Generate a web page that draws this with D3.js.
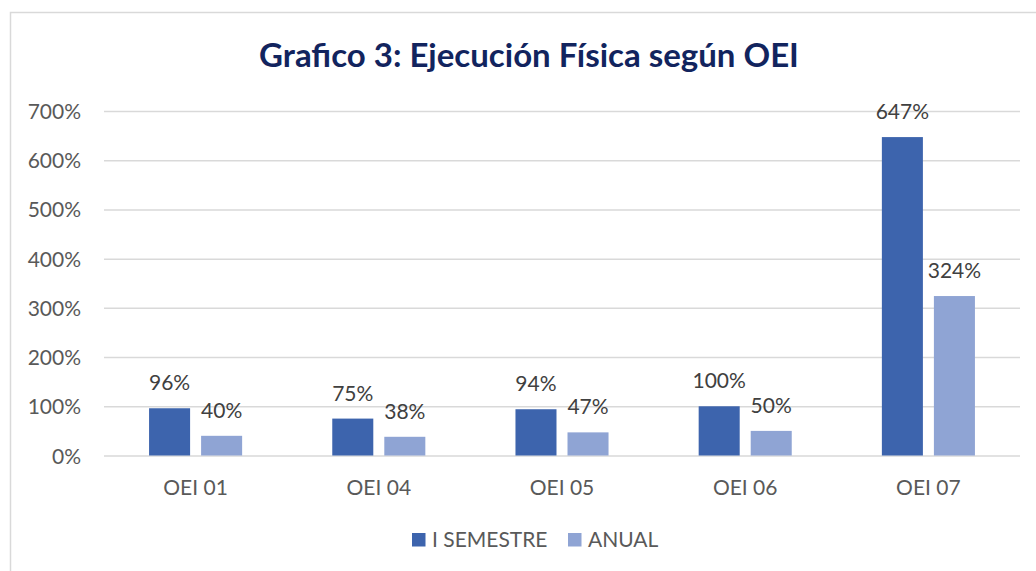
<!DOCTYPE html>
<html>
<head>
<meta charset="utf-8">
<script src="https://cdn.jsdelivr.net/npm/d3@7"></script>
<style>
  html, body { margin: 0; padding: 0; background: #fff; }
  svg { display: block; }
</style>
</head>
<body>
<script>
const categories = ["OEI 01", "OEI 04", "OEI 05", "OEI 06", "OEI 07"]
const series = ["I SEMESTRE", "ANUAL"]
const semestre = [0.96, 0.75, 0.94, 1.0, 6.47]
const anual = [0.40, 0.38, 0.47, 0.50, 3.24]
const yTicks = [0, 1, 2, 3, 4, 5, 6, 7]

const width = 1036
const height = 571
const margin = { top: 111, right: 16, bottom: 115.5, left: 104 }
const colors = { "I SEMESTRE": "#3d64ad", "ANUAL": "#8fa4d4" }
const font = "Lato, 'Noto Sans', sans-serif"

const svg = d3.select("body")
  .append("svg")
  .attr("width", width)
  .attr("height", height)

// outer frame (right and bottom edges fall outside the picture)
svg.append("rect")
  .attr("x", 10.5)
  .attr("y", 12.5)
  .attr("width", width + 20)
  .attr("height", height + 20)
  .style("fill", "#fff")
  .style("stroke", "#d9d9d9")
  .style("stroke-width", 1.5)

const x = d3.scaleBand()
  .domain(categories)
  .range([margin.left, width - margin.right])

const groupW = x.bandwidth() * 0.508
const x1 = d3.scaleBand()
  .domain(series)
  .range([(x.bandwidth() - groupW) / 2, (x.bandwidth() + groupW) / 2])
  .paddingInner(0.2115)

const y = d3.scaleLinear()
  .domain([0, 7])
  .range([height - margin.bottom, margin.top])

// gridlines + y labels
const yAxis = svg.append("g")
  .attr("transform", `translate(${margin.left},0)`)
  .call(d3.axisLeft(y)
    .tickValues(yTicks)
    .tickSize(-(width - margin.left - margin.right))
    .tickPadding(23)
    .tickFormat(d => Math.round(d * 100) + "%"))

yAxis.select(".domain").remove()
yAxis.selectAll(".tick line")
  .style("stroke", "#d9d9d9")
  .style("stroke-width", 1.5)
yAxis.selectAll(".tick text")
  .style("font-family", font)
  .style("font-size", "21px")
  .style("fill", "#595959")
  .attr("dy", "0.36em")

// x labels
svg.append("g")
  .selectAll("text")
  .data(categories)
  .enter()
  .append("text")
  .attr("x", d => x(d) + x.bandwidth() / 2)
  .attr("y", 495)
  .attr("text-anchor", "middle")
  .style("font-family", font)
  .style("font-size", "21px")
  .style("fill", "#595959")
  .text(d => d)

// bars
const rows = categories.map((c, i) => ({
  cat: c,
  vals: [
    { key: "I SEMESTRE", value: semestre[i] },
    { key: "ANUAL", value: anual[i] },
  ],
}))

const groups = svg.append("g")
  .selectAll("g")
  .data(rows)
  .enter()
  .append("g")
  .attr("transform", d => `translate(${x(d.cat)},0)`)

groups.selectAll("rect")
  .data(d => d.vals)
  .enter()
  .append("rect")
  .attr("x", d => x1(d.key))
  .attr("width", x1.bandwidth())
  .attr("y", d => y(d.value))
  .attr("height", d => y(0) - y(d.value))
  .style("fill", d => colors[d.key])

groups.selectAll("text")
  .data(d => d.vals)
  .enter()
  .append("text")
  .attr("x", d => x1(d.key) + x1.bandwidth() / 2)
  .attr("y", d => y(d.value) - 18)
  .attr("text-anchor", "middle")
  .style("font-family", font)
  .style("font-size", "21px")
  .style("fill", "#404040")
  .text(d => Math.round(d.value * 100) + "%")

// title
svg.append("text")
  .attr("x", 529)
  .attr("y", 67)
  .attr("text-anchor", "middle")
  .style("font-family", font)
  .style("font-weight", "bold")
  .style("font-size", "33px")
  .style("fill", "#12245e")
  .text("Grafico 3: Ejecución Física según OEI")

// legend
const legend = svg.append("g")
const legendItems = [
  { key: "I SEMESTRE", x: 412 },
  { key: "ANUAL", x: 568 },
]
legendItems.forEach(d => {
  legend.append("rect")
    .attr("x", d.x)
    .attr("y", 533)
    .attr("width", 13.5)
    .attr("height", 13.5)
    .style("fill", colors[d.key])
  legend.append("text")
    .attr("x", d.x + 20)
    .attr("y", 547)
    .style("font-family", font)
    .style("font-size", "21px")
    .style("fill", "#595959")
    .text(d.key)
})
</script>
</body>
</html>
